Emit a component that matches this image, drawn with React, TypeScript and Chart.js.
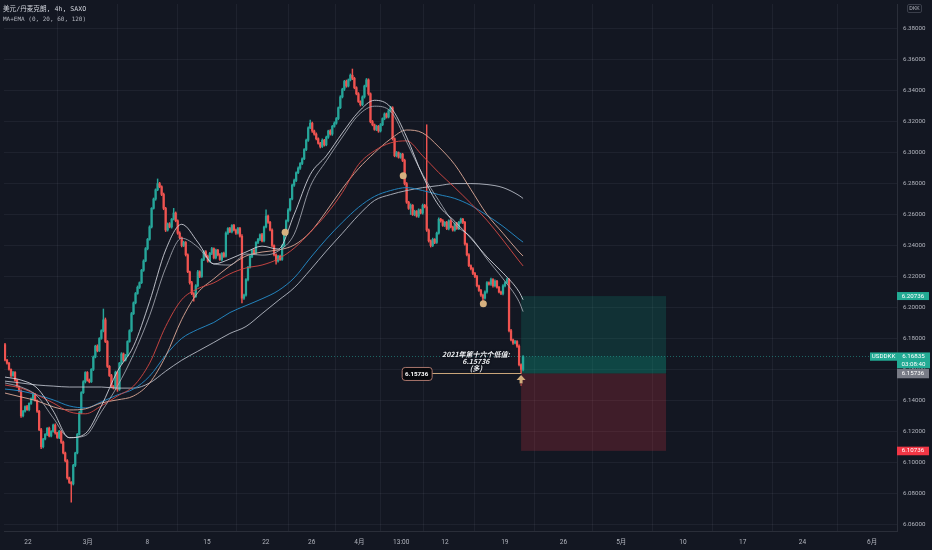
import React, { useEffect, useRef } from 'react';
import { Chart, registerables } from 'chart.js';

Chart.register(...registerables);

// ---------- data ----------
const symbolTitle = '美元/丹麦克朗, 4h, SAXO';
const indicatorTitle = 'MA+EMA (0, 20, 60, 120)';
const symbolCode = 'USDDKK';
const currencyCode = 'DKK';
const countdownText = '03:08:40';
const lowNoteLines = ['2021年第十六个低值:', '6.15736', '(多)'];

const firstOpen = 6.176;
const closes = [
  6.1660, 6.1640, 6.1600, 6.1560, 6.1580, 6.1530, 6.1490, 6.1460, 6.1300, 6.1330,
  6.1360, 6.1340, 6.1380, 6.1410, 6.1440, 6.1400, 6.1330, 6.1210, 6.1100, 6.1150,
  6.1180, 6.1220, 6.1170, 6.1200, 6.1240, 6.1190, 6.1160, 6.1200, 6.1130, 6.1060,
  6.1010, 6.0900, 6.0870, 6.0860, 6.0980, 6.1060, 6.1180, 6.1320, 6.1450, 6.1520,
  6.1580, 6.1530, 6.1520, 6.1600, 6.1680, 6.1750, 6.1720, 6.1800, 6.1850, 6.1920,
  6.1780, 6.1620, 6.1560, 6.1490, 6.1480, 6.1580, 6.1470, 6.1640, 6.1700, 6.1660,
  6.1690, 6.1780, 6.1850, 6.1960, 6.2030, 6.2090, 6.2130, 6.2160, 6.2240, 6.2300,
  6.2380, 6.2440, 6.2520, 6.2640, 6.2700, 6.2760, 6.2800, 6.2780, 6.2730, 6.2640,
  6.2500, 6.2540, 6.2520, 6.2570, 6.2610, 6.2560, 6.2480, 6.2450, 6.2400, 6.2420,
  6.2340, 6.2230, 6.2160, 6.2090, 6.2070, 6.2140, 6.2230, 6.2200, 6.2310, 6.2360,
  6.2330, 6.2300, 6.2350, 6.2380, 6.2320, 6.2370, 6.2340, 6.2310, 6.2350, 6.2330,
  6.2480, 6.2510, 6.2490, 6.2530, 6.2500, 6.2480, 6.2510, 6.2460, 6.2060, 6.2080,
  6.2180, 6.2260, 6.2330, 6.2370, 6.2350, 6.2420, 6.2440, 6.2470, 6.2430, 6.2520,
  6.2590, 6.2550, 6.2500, 6.2400, 6.2340, 6.2300, 6.2330, 6.2310, 6.2400, 6.2470,
  6.2560, 6.2630, 6.2700, 6.2790, 6.2820, 6.2870, 6.2900, 6.2930, 6.2960, 6.3020,
  6.3080, 6.3160, 6.3190, 6.3140, 6.3120, 6.3090, 6.3060, 6.3040, 6.3080, 6.3050,
  6.3100, 6.3140, 6.3120, 6.3170, 6.3190, 6.3220, 6.3290, 6.3360, 6.3410, 6.3460,
  6.3430, 6.3470, 6.3500, 6.3480, 6.3420, 6.3380, 6.3330, 6.3310, 6.3360, 6.3430,
  6.3470, 6.3380, 6.3200, 6.3180, 6.3150, 6.3170, 6.3140, 6.3180, 6.3220, 6.3250,
  6.3230, 6.3270, 6.3290, 6.3090, 6.2980, 6.3000, 6.2970, 6.2990, 6.2950, 6.2800,
  6.2680, 6.2640, 6.2660, 6.2600, 6.2620, 6.2590, 6.2630, 6.2610, 6.2660, 6.2650,
  6.2500, 6.2430, 6.2400, 6.2440, 6.2420, 6.2480, 6.2570, 6.2560, 6.2530, 6.2550,
  6.2510, 6.2560, 6.2520, 6.2500, 6.2540, 6.2510, 6.2550, 6.2570, 6.2550, 6.2410,
  6.2340, 6.2270, 6.2250, 6.2220, 6.2200, 6.2140, 6.2110, 6.2080, 6.2060, 6.2100,
  6.2160, 6.2150, 6.2180, 6.2140, 6.2170, 6.2130, 6.2100, 6.2090, 6.2140, 6.2160,
  6.2180, 6.1850, 6.1790, 6.1770, 6.1780, 6.1750, 6.1630, 6.1600, 6.16835,
];
// wick lengths beyond the body, in pips (0.0001)
const upperWickPips = [
  8, 5, 6, 4, 7, 5, 6, 4, 8, 6,
  5, 7, 4, 6, 8, 5, 4, 6, 9, 5,
  6, 4, 7, 5, 6, 8, 4, 6, 5, 7,
  6, 8, 5, 6, 7, 5, 6, 8, 6, 7,
  5, 6, 8, 5, 7, 6, 9, 5, 6, 70,
  12, 6, 5, 8, 6, 9, 7, 5, 8, 6,
  7, 5, 6, 8, 6, 7, 9, 5, 6, 8,
  7, 6, 8, 5, 7, 6, 30, 8, 6, 9,
  7, 6, 8, 5, 30, 7, 6, 9, 5, 8,
  6, 7, 5, 8, 6, 7, 9, 6, 5, 8,
  7, 9, 6, 8, 5, 7, 6, 8, 5, 7,
  9, 6, 8, 5, 7, 6, 8, 7, 10, 6,
  7, 5, 8, 6, 9, 5, 7, 6, 8, 6,
  40, 7, 6, 8, 5, 7, 6, 8, 5, 7,
  6, 8, 5, 7, 9, 6, 8, 5, 7, 6,
  8, 6, 20, 7, 6, 8, 5, 7, 9, 6,
  7, 5, 8, 6, 9, 7, 5, 8, 6, 7,
  9, 6, 8, 40, 7, 6, 8, 5, 7, 6,
  9, 7, 6, 8, 5, 7, 6, 8, 5, 7,
  6, 8, 9, 7, 6, 8, 5, 7, 6, 8,
  7, 6, 9, 5, 8, 6, 7, 5, 8, 6,
  530, 7, 6, 8, 5, 7, 9, 6, 8, 5,
  7, 6, 8, 5, 7, 9, 6, 8, 5, 7,
  6, 8, 5, 7, 6, 8, 5, 7, 6, 8,
  7, 5, 9, 6, 8, 5, 7, 6, 8, 7,
  9, 6, 8, 5, 7, 6, 8, 6, 5,
];
const lowerWickPips = [
  6, 7, 5, 8, 6, 7, 5, 6, 10, 7,
  6, 5, 8, 6, 7, 5, 8, 6, 12, 7,
  5, 8, 6, 7, 5, 9, 6, 7, 8, 6,
  7, 9, 6, 118, 7, 8, 6, 5, 7, 6,
  8, 6, 7, 5, 8, 6, 7, 5, 6, 8,
  7, 8, 6, 9, 7, 8, 12, 6, 7, 8,
  6, 7, 5, 8, 6, 7, 5, 8, 6, 7,
  5, 8, 6, 7, 5, 8, 6, 7, 8, 9,
  10, 7, 6, 8, 5, 7, 8, 6, 9, 7,
  8, 6, 9, 7, 30, 6, 8, 7, 6, 8,
  6, 8, 7, 9, 6, 7, 8, 6, 9, 7,
  6, 8, 7, 9, 6, 8, 7, 6, 30, 8,
  7, 9, 6, 8, 7, 6, 8, 9, 7, 6,
  7, 8, 6, 9, 7, 20, 8, 6, 7, 8,
  6, 7, 8, 6, 9, 7, 6, 8, 7, 6,
  7, 8, 6, 9, 7, 8, 6, 9, 7, 8,
  6, 8, 7, 9, 6, 7, 8, 6, 7, 9,
  8, 6, 7, 9, 8, 7, 6, 9, 7, 8,
  6, 9, 8, 7, 6, 8, 9, 7, 6, 8,
  7, 6, 8, 9, 7, 8, 6, 7, 8, 9,
  8, 7, 40, 6, 8, 7, 9, 6, 8, 7,
  9, 8, 10, 7, 8, 6, 7, 9, 6, 8,
  7, 9, 6, 8, 7, 6, 8, 7, 9, 8,
  7, 6, 8, 9, 7, 8, 6, 9, 35, 7,
  8, 6, 7, 9, 8, 6, 7, 8, 9, 7,
  6, 8, 7, 9, 6, 8, 7, 26.4, 10,
];

// moving averages, sampled every 8 bars
const maBars = [0, 8, 16, 24, 32, 40, 48, 56, 64, 72, 80, 88, 96, 104, 112, 120, 128, 136, 144, 152, 160, 168, 176, 184, 192, 200, 208, 216, 224, 232, 240, 248, 256, 258];
const ma20a = [6.1550, 6.1531, 6.1479, 6.1332, 6.1159, 6.1185, 6.1364, 6.1588, 6.1749, 6.2037, 6.2371, 6.2537, 6.2422, 6.2281, 6.2313, 6.2358, 6.2396, 6.2377, 6.2601, 6.2858, 6.2979, 6.3127, 6.3262, 6.3338, 6.3294, 6.3101, 6.2851, 6.2659, 6.2556, 6.2447, 6.2326, 6.2223, 6.2101, 6.2050];
const ma20b = [6.1512, 6.1486, 6.1428, 6.1287, 6.1159, 6.1172, 6.1326, 6.1492, 6.1697, 6.1947, 6.2255, 6.2447, 6.2390, 6.2281, 6.2274, 6.2345, 6.2338, 6.2364, 6.2473, 6.2781, 6.2947, 6.3101, 6.3242, 6.3300, 6.3268, 6.3069, 6.2858, 6.2691, 6.2537, 6.2454, 6.2313, 6.2185, 6.2037, 6.1973];
const ma60red = [6.1499, 6.1479, 6.1435, 6.1383, 6.1326, 6.1313, 6.1364, 6.1428, 6.1492, 6.1640, 6.1877, 6.2050, 6.2121, 6.2159, 6.2217, 6.2255, 6.2274, 6.2313, 6.2383, 6.2486, 6.2601, 6.2742, 6.2922, 6.3012, 6.3063, 6.3076, 6.2979, 6.2871, 6.2774, 6.2672, 6.2563, 6.2435, 6.2300, 6.2268];
const ma60pink = [6.1447, 6.1422, 6.1396, 6.1358, 6.1338, 6.1345, 6.1383, 6.1403, 6.1428, 6.1512, 6.1685, 6.1922, 6.2095, 6.2185, 6.2268, 6.2332, 6.2358, 6.2371, 6.2403, 6.2486, 6.2621, 6.2768, 6.2896, 6.2999, 6.3088, 6.3146, 6.3127, 6.3037, 6.2922, 6.2762, 6.2601, 6.2479, 6.2358, 6.2332];
const ma120blue = [6.1473, 6.1460, 6.1435, 6.1403, 6.1364, 6.1351, 6.1390, 6.1435, 6.1473, 6.1556, 6.1691, 6.1800, 6.1858, 6.1903, 6.1967, 6.2012, 6.2056, 6.2108, 6.2191, 6.2319, 6.2441, 6.2550, 6.2646, 6.2717, 6.2755, 6.2774, 6.2755, 6.2729, 6.2704, 6.2659, 6.2595, 6.2524, 6.2441, 6.2422];
const ma120gray = [6.1524, 6.1512, 6.1499, 6.1492, 6.1486, 6.1486, 6.1486, 6.1479, 6.1479, 6.1512, 6.1588, 6.1659, 6.1717, 6.1774, 6.1832, 6.1877, 6.1960, 6.2044, 6.2127, 6.2242, 6.2364, 6.2479, 6.2595, 6.2691, 6.2729, 6.2755, 6.2774, 6.2787, 6.2800, 6.2800, 6.2794, 6.2774, 6.2723, 6.2704];

const markerBars = [139.5, 198.3, 238.2];
const markerPrices = [6.2486, 6.2851, 6.2024];

const yTicks = [6.06, 6.08, 6.10, 6.12, 6.14, 6.16, 6.18, 6.20, 6.22, 6.24, 6.26, 6.28, 6.30, 6.32, 6.34, 6.36, 6.38];
const xTickBars = [11.4, 41.2, 70.9, 100.6, 129.9, 152.7, 176.5, 197.3, 219.1, 248.9, 278.1, 306.9, 337.6, 367.4, 397.1, 431.8];
const xTickLabels = ['22', '3月', '8', '15', '22', '26', '4月', '13:00', '12', '19', '26', '5月', '10', '17', '24', '6月'];

const entryPrice = 6.15736;
const takeProfitPrice = 6.20736;
const stopLossPrice = 6.10736;
const lastPrice = 6.16835;
const positionStartBar = 257;
const positionEndBar = 329.2;
const entryLabelBar = 205;
const lowNoteBar = 234.5;
const signalBar = 257;

// ---------- view ----------
const X_MIN = -0.496;
const X_MAX = 444.2;
const Y_MIN = 6.0556;
const Y_MAX = 6.3960;

const BG = '#131722';
const UP = '#26a69a';
const DOWN = '#ef5350';
const GRID = 'rgba(240,243,250,0.055)';
const AXIS_TEXT = '#b2b5be';
const FONT = 'Roboto, "Noto Sans CJK SC", sans-serif';
const CJK_FONT = '"DejaVu Sans Mono", "Noto Sans CJK SC", monospace';

const opens = closes.map((c, i) => (i === 0 ? firstOpen : closes[i - 1]));
const highs = closes.map((c, i) => Math.max(opens[i], c) + upperWickPips[i] * 0.0001);
const lows = closes.map((c, i) => Math.min(opens[i], c) - lowerWickPips[i] * 0.0001);
const candleColors = closes.map((c, i) => (c >= opens[i] ? UP : DOWN));

function tag(ctx: CanvasRenderingContext2D, x: number, y: number, w: number, h: number, bg: string, lines: string[], lineGap = 7.5) {
  ctx.fillStyle = bg;
  ctx.fillRect(x, y, w, h);
  ctx.fillStyle = '#ffffff';
  ctx.font = `6.2px ${FONT}`;
  ctx.textAlign = 'center';
  ctx.textBaseline = 'middle';
  lines.forEach((t, k) => ctx.fillText(t, x + w / 2, y + 4.2 + k * lineGap));
}

const overlayPlugin = {
  id: 'tvOverlay',
  beforeDraw(chart: any) {
    const ctx = chart.ctx as CanvasRenderingContext2D;
    ctx.save();
    ctx.fillStyle = BG;
    ctx.fillRect(0, 0, chart.width, chart.height);
    ctx.restore();
  },
  beforeDatasetsDraw(chart: any) {
    const ctx = chart.ctx as CanvasRenderingContext2D;
    const xs = chart.scales.x;
    const ys = chart.scales.y;
    const area = chart.chartArea;
    const x0 = xs.getPixelForValue(positionStartBar);
    const x1 = xs.getPixelForValue(positionEndBar);
    const yTP = ys.getPixelForValue(takeProfitPrice);
    const yE = ys.getPixelForValue(entryPrice);
    const ySL = ys.getPixelForValue(stopLossPrice);
    const yL = ys.getPixelForValue(lastPrice);
    ctx.save();
    ctx.fillStyle = 'rgba(8,153,129,0.2)';
    ctx.fillRect(x0, yTP, x1 - x0, yE - yTP);
    ctx.fillRect(x0, yL, x1 - x0, yE - yL);
    ctx.fillStyle = 'rgba(242,54,69,0.2)';
    ctx.fillRect(x0, yE, x1 - x0, ySL - yE);
    // last price line
    ctx.strokeStyle = 'rgba(38,166,154,0.55)';
    ctx.lineWidth = 1;
    ctx.setLineDash([1, 2]);
    ctx.beginPath();
    ctx.moveTo(area.left, Math.round(yL) + 0.5);
    ctx.lineTo(area.right, Math.round(yL) + 0.5);
    ctx.stroke();
    ctx.restore();
  },
  afterDatasetsDraw(chart: any) {
    const ctx = chart.ctx as CanvasRenderingContext2D;
    const xs = chart.scales.x;
    const ys = chart.scales.y;
    const yE = ys.getPixelForValue(entryPrice);
    const xLabel = xs.getPixelForValue(entryLabelBar);
    const xSig = xs.getPixelForValue(signalBar);
    ctx.save();
    // connector line
    ctx.strokeStyle = '#c9a57a';
    ctx.lineWidth = 1;
    ctx.beginPath();
    ctx.moveTo(xLabel + 15, Math.round(yE) + 0.5);
    ctx.lineTo(xSig, Math.round(yE) + 0.5);
    ctx.stroke();
    // label box
    const bw = 30, bh = 13;
    ctx.beginPath();
    (ctx as any).roundRect(xLabel - bw / 2 + 0.5, yE - bh / 2 + 0.5, bw, bh, 3);
    ctx.fillStyle = '#07080c';
    ctx.fill();
    ctx.strokeStyle = '#a9766c';
    ctx.stroke();
    ctx.fillStyle = '#ffffff';
    ctx.font = `bold 6.2px ${FONT}`;
    ctx.textAlign = 'center';
    ctx.textBaseline = 'middle';
    ctx.fillText(entryPrice.toFixed(5), xLabel, yE + 0.5);
    // arrow
    ctx.fillStyle = '#d2ad7c';
    ctx.beginPath();
    ctx.moveTo(xSig, yE + 1.5);
    ctx.lineTo(xSig + 4.5, yE + 6.5);
    ctx.lineTo(xSig - 4.5, yE + 6.5);
    ctx.closePath();
    ctx.fill();
    ctx.fillRect(xSig - 1.5, yE + 6.5, 3, 3.5);
    ctx.fillStyle = '#c0504a';
    ctx.fillRect(xSig - 0.6, yE + 10, 1.2, 2.5);
    // low note
    const xn = xs.getPixelForValue(lowNoteBar);
    ctx.font = `italic bold 7px "Noto Sans CJK SC", ${FONT}`;
    ctx.shadowColor = 'rgba(0,0,0,0.9)';
    ctx.shadowBlur = 2;
    ctx.fillStyle = '#eef0f5';
    lowNoteLines.forEach((t, k) => ctx.fillText(t, xn, yE - 19.5 + k * 7.2));
    ctx.restore();
  },
  afterDraw(chart: any) {
    const ctx = chart.ctx as CanvasRenderingContext2D;
    const ys = chart.scales.y;
    const area = chart.chartArea;
    const r = area.right;
    ctx.save();
    tag(ctx, r, ys.getPixelForValue(takeProfitPrice) - 4, 32, 8, '#22ab94', [takeProfitPrice.toFixed(5)]);
    const yL = ys.getPixelForValue(lastPrice);
    tag(ctx, r - 27, yL - 4, 27, 8.3, '#22ab94', [symbolCode]);
    tag(ctx, r, yL - 4, 33, 15.8, '#22ab94', [lastPrice.toFixed(5), countdownText]);
    const yE = ys.getPixelForValue(entryPrice);
    tag(ctx, r, yE - 4.6, 32, 9.4, '#787b86', [entryPrice.toFixed(5)]);
    tag(ctx, r, ys.getPixelForValue(stopLossPrice) - 4.2, 32, 8.6, '#f23645', [stopLossPrice.toFixed(5)]);
    // currency box
    ctx.strokeStyle = '#3a3e4a';
    ctx.lineWidth = 1;
    ctx.beginPath();
    (ctx as any).roundRect(907.5, 4.5, 14, 8, 1.5);
    ctx.stroke();
    ctx.fillStyle = AXIS_TEXT;
    ctx.font = `5.4px ${FONT}`;
    ctx.textAlign = 'center';
    ctx.textBaseline = 'middle';
    ctx.fillText(currencyCode, 914.5, 8.7);
    // titles
    ctx.textAlign = 'left';
    ctx.fillStyle = '#d1d4dc';
    ctx.font = `6.6px ${CJK_FONT}`;
    ctx.fillText(symbolTitle, 3, 9.5);
    ctx.fillStyle = AXIS_TEXT;
    ctx.font = `6px ${CJK_FONT}`;
    ctx.fillText(indicatorTitle, 3, 19.5);
    ctx.restore();
  },
};

function lineDataset(label: string, values: number[], color: string) {
  return {
    type: 'line' as const,
    label,
    data: maBars.map((b, k) => ({ x: b, y: values[k] })),
    borderColor: color,
    borderWidth: 1,
    pointRadius: 0,
    fill: false,
    cubicInterpolationMode: 'monotone' as const,
    order: 1,
  };
}

export default function App() {
  const ref = useRef<HTMLCanvasElement>(null);
  useEffect(() => {
    document.body.style.margin = '0';
    document.body.style.background = BG;
    const canvas = ref.current!;
    const chart = new Chart(canvas, {
      type: 'bar',
      data: {
        datasets: [
          {
            type: 'bar',
            label: 'wicks',
            data: closes.map((c, i) => ({ x: i, y: [lows[i], highs[i]] })) as any,
            backgroundColor: candleColors,
            barThickness: 0.8,
            grouped: false,
            borderWidth: 0,
            order: 3,
          } as any,
          {
            type: 'bar',
            label: 'bodies',
            data: closes.map((c, i) => ({ x: i, y: [opens[i], c] })) as any,
            backgroundColor: candleColors,
            barThickness: 1.6,
            grouped: false,
            borderWidth: 0,
            minBarLength: 1,
            order: 2,
          } as any,
          lineDataset('MA20', ma20a, 'rgba(214,216,224,0.85)'),
          lineDataset('EMA20', ma20b, 'rgba(165,168,178,0.85)'),
          lineDataset('EMA60', ma60red, 'rgba(214,72,68,0.9)'),
          lineDataset('MA60', ma60pink, 'rgba(222,170,152,0.9)'),
          lineDataset('EMA120', ma120blue, 'rgba(36,136,196,0.95)'),
          lineDataset('MA120', ma120gray, 'rgba(190,195,206,0.85)'),
          {
            type: 'scatter',
            label: 'signals',
            data: markerBars.map((b, k) => ({ x: b, y: markerPrices[k] })),
            backgroundColor: '#d6b07f',
            borderWidth: 0,
            pointRadius: 3.5,
            order: 0,
          } as any,
        ],
      },
      options: {
        animation: false,
        responsive: false,
        maintainAspectRatio: false,
        events: [],
        layout: { padding: 0 },
        plugins: { legend: { display: false }, tooltip: { enabled: false }, title: { display: false } },
        scales: {
          x: {
            type: 'linear',
            min: X_MIN,
            max: X_MAX,
            offset: false,
            grid: { color: GRID, drawTicks: false },
            border: { display: true, color: '#2a2e39' },
            ticks: {
              color: AXIS_TEXT,
              font: { family: FONT, size: 6.5 },
              padding: 7,
              autoSkip: false,
              maxRotation: 0,
              callback: (_v: any, idx: number) => xTickLabels[idx] ?? '',
            },
            afterBuildTicks: (s: any) => {
              s.ticks = xTickBars.map((v) => ({ value: v }));
            },
            afterFit: (s: any) => {
              s.height = 19;
              s.paddingLeft = 0;
              s.paddingRight = 0;
            },
          },
          y: {
            type: 'linear',
            position: 'right',
            min: Y_MIN,
            max: Y_MAX,
            grid: { color: GRID, drawTicks: false },
            border: { display: true, color: '#2a2e39' },
            ticks: {
              color: AXIS_TEXT,
              font: { family: FONT, size: 6.2 },
              padding: 6,
              callback: (v: any) => Number(v).toFixed(5),
            },
            afterBuildTicks: (s: any) => {
              s.ticks = yTicks.map((v) => ({ value: v }));
            },
            afterFit: (s: any) => {
              s.width = 35;
              s.paddingTop = 0;
              s.paddingBottom = 0;
            },
          },
        },
      } as any,
      plugins: [overlayPlugin],
    });
    return () => chart.destroy();
  }, []);
  return (
    <div style={{ width: 932, height: 550 }}>
      <canvas ref={ref} width={932} height={550} style={{ display: 'block' }} />
    </div>
  );
}
